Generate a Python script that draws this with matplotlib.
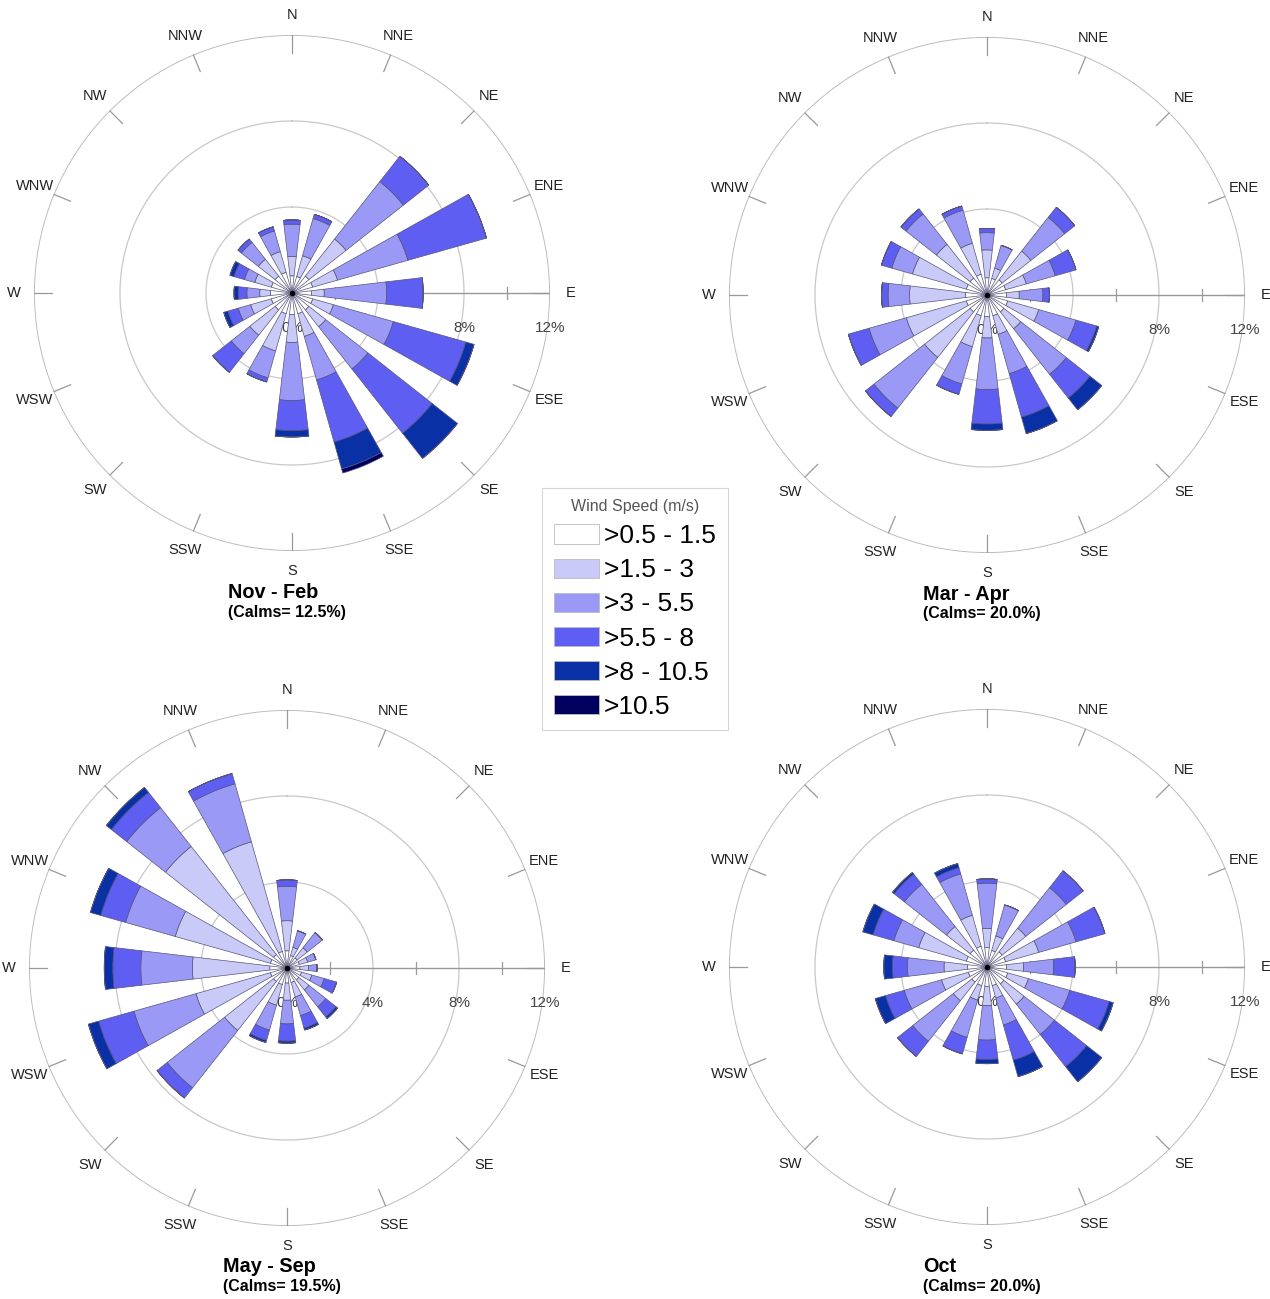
import numpy as np
import matplotlib
matplotlib.use("Agg")
import matplotlib.pyplot as plt
from matplotlib.patches import Patch

plt.rcParams['font.family'] = ['Liberation Sans', 'DejaVu Sans']

directions = ["N", "NNE", "NE", "ENE", "E", "ESE", "SE", "SSE",
              "S", "SSW", "SW", "WSW", "W", "WNW", "NW", "NNW"]
speed_labels = [">0.5 - 1.5", ">1.5 - 3", ">3 - 5.5", ">5.5 - 8", ">8 - 10.5", ">10.5"]
speed_colors = ["#ffffff", "#cacaf8", "#9a9af6", "#5e5ef2", "#0a30a6", "#00005e"]
rings = [4, 8, 12]

# frequency (%) per direction, one column per speed class
nov_feb = [
    [0.8, 0.9, 1.5, 0.2, 0.0, 0.0],
    [0.8, 1.0, 1.8, 0.2, 0.0, 0.0],
    [1.0, 2.2, 3.4, 1.5, 0.0, 0.0],
    [1.0, 1.2, 3.4, 3.8, 0.0, 0.0],
    [0.9, 0.6, 2.9, 1.7, 0.0, 0.0],
    [1.0, 1.0, 2.9, 3.5, 0.4, 0.0],
    [1.0, 1.0, 2.5, 3.8, 1.5, 0.0],
    [1.0, 1.1, 2.1, 3.0, 1.3, 0.2],
    [1.0, 1.3, 2.7, 1.4, 0.3, 0.0],
    [1.0, 1.8, 1.3, 0.2, 0.0, 0.0],
    [1.0, 1.5, 1.1, 1.1, 0.0, 0.0],
    [1.0, 1.0, 0.6, 0.5, 0.2, 0.0],
    [1.0, 0.5, 0.6, 0.4, 0.2, 0.0],
    [1.0, 0.8, 0.5, 0.5, 0.2, 0.0],
    [1.0, 1.0, 1.0, 0.2, 0.0, 0.0],
    [1.0, 1.0, 1.0, 0.2, 0.0, 0.0],
]
mar_apr = [
    [0.8, 1.3, 0.8, 0.2, 0.0, 0.0],
    [0.8, 0.5, 1.1, 0.0, 0.0, 0.0],
    [0.9, 1.7, 2.0, 0.6, 0.0, 0.0],
    [0.9, 1.0, 1.4, 1.0, 0.0, 0.0],
    [0.9, 0.6, 1.1, 0.3, 0.0, 0.0],
    [1.0, 1.5, 1.8, 1.0, 0.1, 0.0],
    [1.0, 1.0, 2.7, 1.4, 0.7, 0.0],
    [1.0, 0.9, 1.9, 2.1, 0.8, 0.0],
    [1.0, 1.0, 2.4, 1.6, 0.3, 0.0],
    [1.0, 1.5, 1.8, 0.5, 0.0, 0.0],
    [1.0, 2.7, 3.0, 0.5, 0.0, 0.0],
    [1.0, 2.9, 1.8, 1.0, 0.0, 0.0],
    [1.0, 2.6, 1.0, 0.3, 0.0, 0.0],
    [1.0, 2.6, 1.0, 0.5, 0.0, 0.0],
    [1.0, 2.0, 1.8, 0.3, 0.0, 0.0],
    [1.0, 1.5, 1.6, 0.2, 0.0, 0.0],
]
may_sep = [
    [0.8, 1.4, 1.6, 0.3, 0.0, 0.0],
    [0.6, 0.4, 0.8, 0.0, 0.0, 0.0],
    [0.6, 0.6, 0.9, 0.0, 0.0, 0.0],
    [0.6, 0.4, 0.4, 0.0, 0.0, 0.0],
    [0.6, 0.4, 0.4, 0.0, 0.0, 0.0],
    [0.7, 0.5, 0.6, 0.6, 0.0, 0.0],
    [0.7, 0.6, 1.0, 0.6, 0.1, 0.0],
    [0.7, 0.7, 0.9, 0.6, 0.1, 0.0],
    [0.7, 0.8, 1.1, 0.8, 0.1, 0.0],
    [0.8, 1.0, 1.2, 0.5, 0.1, 0.0],
    [0.8, 2.9, 3.4, 0.6, 0.0, 0.0],
    [0.8, 3.6, 3.0, 1.7, 0.5, 0.0],
    [0.8, 3.6, 2.4, 1.3, 0.4, 0.0],
    [0.8, 4.6, 2.4, 1.2, 0.5, 0.0],
    [0.8, 6.4, 2.3, 0.9, 0.3, 0.0],
    [0.8, 5.3, 2.8, 0.5, 0.0, 0.0],
]
october = [
    [0.9, 0.9, 2.1, 0.2, 0.0, 0.0],
    [0.8, 0.7, 1.5, 0.0, 0.0, 0.0],
    [0.9, 1.4, 2.4, 1.0, 0.0, 0.0],
    [0.9, 1.6, 1.8, 1.4, 0.0, 0.0],
    [0.9, 0.8, 1.4, 1.0, 0.0, 0.0],
    [1.0, 1.0, 2.0, 1.9, 0.2, 0.0],
    [1.0, 1.2, 1.8, 1.9, 0.9, 0.0],
    [0.9, 0.6, 1.3, 1.7, 0.8, 0.0],
    [0.9, 0.9, 1.6, 0.9, 0.2, 0.0],
    [0.9, 0.7, 1.8, 0.8, 0.0, 0.0],
    [0.9, 1.1, 2.4, 0.9, 0.0, 0.0],
    [0.9, 1.3, 1.8, 0.9, 0.5, 0.0],
    [0.9, 1.1, 1.7, 0.7, 0.4, 0.0],
    [1.0, 2.3, 1.2, 1.0, 0.5, 0.0],
    [1.0, 1.4, 2.5, 0.6, 0.1, 0.0],
    [1.0, 1.5, 2.0, 0.3, 0.2, 0.0],
]
seasons = ["Nov - Feb", "Mar - Apr", "May - Sep", "Oct"]
calms = [12.5, 20.0, 19.5, 20.0]

W, H = 1270, 1299
centers = [(292, 293), (987, 295), (287, 968), (987, 967)]
R = 258.0  # pixel radius of the 12% ring
px = R / 12.0


def polar_of(dx, dy):
    # dx east, dy north (in %), to compass angle and radius
    return np.arctan2(dx, dy), np.hypot(dx, dy)


fig = plt.figure(figsize=(W / 100, H / 100), dpi=100)

for i, data in enumerate([nov_feb, mar_apr, may_sep, october]):
    cx, cy = centers[i]
    ax = fig.add_axes([(cx - R) / W, (H - cy - R) / H, 2 * R / W, 2 * R / H],
                      projection='polar')
    ax.set_theta_zero_location('N')
    ax.set_theta_direction(-1)
    ax.set_ylim(0, 12)
    ax.axis('off')

    t = np.linspace(0, 2 * np.pi, 400)
    for r in rings:
        ax.plot(t, np.full_like(t, r), color='#c8c8c8' if r < 12 else '#b8b8b8',
                lw=0.9 if r < 12 else 1.3, zorder=1)

    # east axis with minor ticks
    ax.plot([np.pi / 2, np.pi / 2], [0, 12], color='#999999', lw=1.0, zorder=1)
    for r in [2, 6, 10]:
        a0, r0 = polar_of(r, -0.28)
        a1, r1 = polar_of(r, 0.28)
        ax.plot([a0, a1], [r0, r1], color='#999999', lw=0.9, zorder=1)

    # direction ticks and labels
    angles = np.deg2rad(np.arange(16) * 22.5)
    for a, name in zip(angles, directions):
        ax.plot([a, a], [11.15, 12], color='#999999', lw=0.9, zorder=1)
        ax.text(a, 12.95, name, ha='center', va='center', fontsize=10.5,
                color='#222222', zorder=1)

    # percentage labels (drawn under the bars)
    for r in [0] + rings:
        a, rr = polar_of(r, -35 / px)
        ax.text(a, rr, "%d%%" % r, ha='center', va='center', fontsize=11,
                color='#444444', zorder=1)

    vals = np.array(data)
    bottom = np.zeros(len(directions))
    for k in range(len(speed_labels)):
        ax.bar(angles, vals[:, k], width=np.deg2rad(13.5), bottom=bottom,
               color=speed_colors[k], edgecolor='#55557a', linewidth=0.5,
               zorder=3)
        bottom = bottom + vals[:, k]
    ax.plot([0], [0], 'o', color='black', ms=3, zorder=4)

    fig.text((cx - 64) / W, 1 - (cy + 299) / H, seasons[i], fontsize=14.3,
             fontweight='bold', ha='left', va='center')
    fig.text((cx - 64) / W, 1 - (cy + 319) / H, "(Calms= %.1f%%)" % calms[i],
             fontsize=11.5, fontweight='bold', ha='left', va='center')

handles = [Patch(facecolor=c, edgecolor='#bbbbbb', linewidth=0.6) for c in speed_colors]
leg = fig.legend(handles, speed_labels, loc='center', bbox_to_anchor=(635 / W, 1 - 609 / H),
                 fontsize=19, title="Wind Speed (m/s)", title_fontsize=11.5,
                 frameon=True, fancybox=False, edgecolor='#cccccc',
                 handlelength=1.7, handleheight=0.76, handletextpad=0.2,
                 labelspacing=0.38, borderpad=0.45)
leg.get_frame().set_linewidth(0.8)
leg.get_title().set_color('#555555')

fig.savefig("out.png", dpi=100)
